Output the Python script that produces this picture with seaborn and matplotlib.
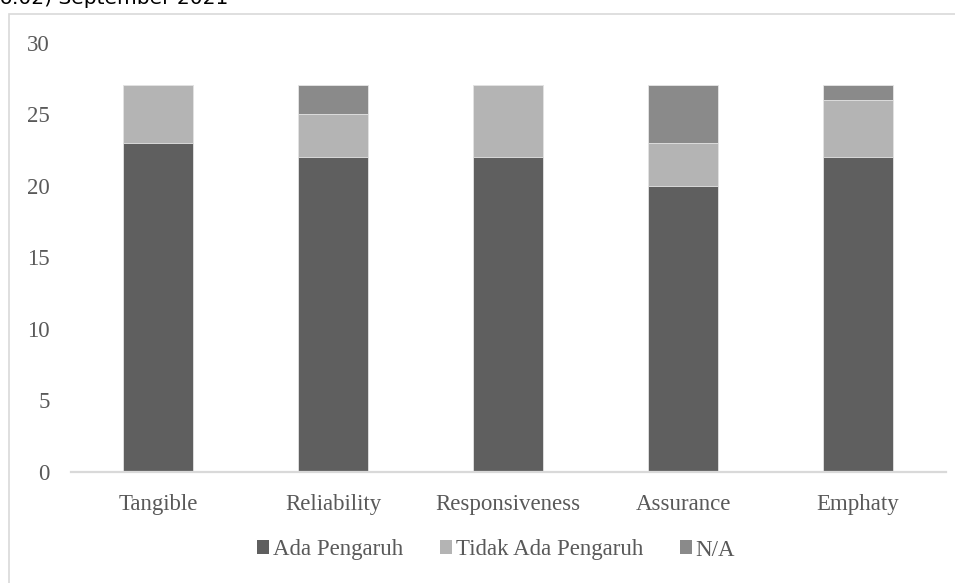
import matplotlib
matplotlib.use("Agg")
import matplotlib.pyplot as plt
from matplotlib.patches import Rectangle, Patch
import numpy as np
import pandas as pd
import seaborn as sns

# Data
categories = ["Tangible", "Reliability", "Responsiveness", "Assurance", "Emphaty"]
ada_pengaruh = [23, 22, 22, 20, 22]
tidak_ada_pengaruh = [4, 3, 5, 3, 4]
n_a = [0, 2, 0, 4, 1]
series_names = ["Ada Pengaruh", "Tidak Ada Pengaruh", "N/A"]
y_ticks = [0, 5, 10, 15, 20, 25, 30]

colors = {"Ada Pengaruh": "#5f5f5f", "Tidak Ada Pengaruh": "#b4b4b4", "N/A": "#8a8a8a"}
text_color = "#595959"
grid_color = "#d9d9d9"

sns.set_theme(style="white")
plt.rcParams["font.family"] = ["Liberation Serif", "DejaVu Serif"]

W, H, DPI = 955, 583, 100
fig = plt.figure(figsize=(W / DPI, H / DPI), dpi=DPI)
fig.patch.set_facecolor("white")

left, right, top, bottom = 70.5, 945.5, 42.5, 471.5
ax = fig.add_axes([left / W, 1 - bottom / H, (right - left) / W, (bottom - top) / H])

df = pd.DataFrame({
    "category": categories,
    "ada": ada_pengaruh,
    "tidak": tidak_ada_pengaruh,
    "na": n_a,
})
# cumulative heights for stacking; taller layers drawn first
df["top_tidak"] = df["ada"] + df["tidak"]
df["top_na"] = df["top_tidak"] + df["na"]

layers = [("top_na", "N/A"), ("top_tidak", "Tidak Ada Pengaruh"), ("ada", "Ada Pengaruh")]
for col, name in layers:
    sns.barplot(data=df, x="category", y=col, order=categories, color=colors[name],
                width=0.4, saturation=1, edgecolor="#e6e6e6", linewidth=0.6, ax=ax)

ax.set_xlim(-0.5, len(categories) - 0.5)
ax.set_ylim(0, 30)
ax.set_yticks(y_ticks)
ax.set_yticklabels([str(t) for t in y_ticks])
ax.set_xlabel("")
ax.set_ylabel("")

for s in ["top", "right", "left"]:
    ax.spines[s].set_visible(False)
ax.spines["bottom"].set_color(grid_color)
ax.spines["bottom"].set_linewidth(1.6)
ax.grid(False)

ax.tick_params(axis="both", length=0, colors=text_color, labelsize=16.5)
ax.tick_params(axis="y", pad=15)
ax.tick_params(axis="x", pad=16)

handles = [Patch(facecolor=colors[n], edgecolor="none") for n in series_names]
fig.legend(handles, series_names, loc="center", bbox_to_anchor=(496 / W, 1 - 550 / H),
           ncol=3, frameon=False, fontsize=16.5, labelcolor=text_color,
           handlelength=0.55, handleheight=0.55, handletextpad=0.15, columnspacing=1.6)

# outer chart frame, running past the right and bottom edges
fig.patches.append(Rectangle((9 / W, -0.1), 1.2, 1 - 14 / H + 0.1, transform=fig.transFigure,
                             fill=False, edgecolor=grid_color, linewidth=1.2))

# running header line above the frame
fig.text(228 / W, 1 - 4 / H, "(No.02) September 2021", ha="right", va="baseline",
         fontsize=14.5, color="black", family=["DejaVu Sans"])

fig.savefig("out.png", dpi=DPI, facecolor="white")
